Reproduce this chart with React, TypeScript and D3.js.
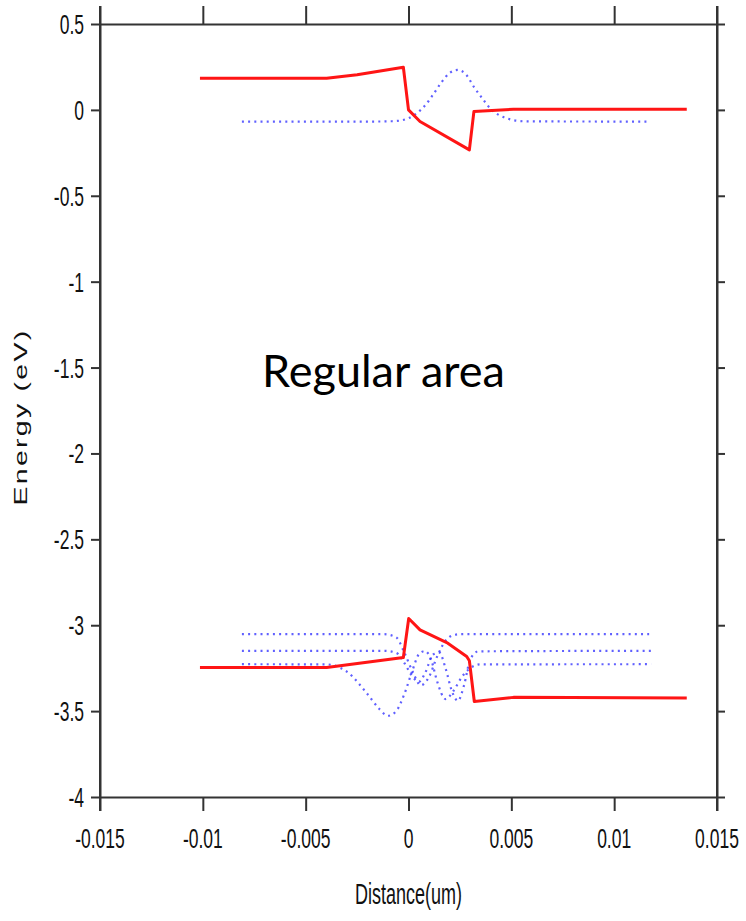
import React, { useEffect, useRef } from "react";
import * as d3 from "d3";

// ---- Data (Distance in um, Energy in eV) ----
const xTicks = [-0.015, -0.01, -0.005, 0, 0.005, 0.01, 0.015];
const xTickLabels = ["-0.015", "-0.01", "-0.005", "0", "0.005", "0.01", "0.015"];
const yTicks = [0.5, 0, -0.5, -1, -1.5, -2, -2.5, -3, -3.5, -4];
const yTickLabels = ["0.5", "0", "-0.5", "-1", "-1.5", "-2", "-2.5", "-3", "-3.5", "-4"];

// Conduction band (red)
const cbX = [-0.01014, -0.00398, -0.0025, -0.00025, 0.0, 0.00056, 0.00296, 0.00318, 0.0051, 0.01353];
const cbY = [0.184, 0.184, 0.205, 0.248, 0.0, -0.068, -0.233, -0.01, 0.004, 0.004];

// Valence band (red)
const vbX = [-0.01014, -0.00398, -0.00025, 0.00001, 0.00056, 0.00186, 0.00283, 0.00296, 0.0032, 0.0051, 0.01353];
const vbY = [-3.246, -3.246, -3.188, -2.961, -3.027, -3.101, -3.182, -3.207, -3.444, -3.42, -3.424];

// Electron wavefunction (blue dotted)
const weX = [-0.0081, -0.002, -0.0008, -0.0004, 0.0, 0.0004, 0.0008, 0.0012, 0.0016, 0.002, 0.0024, 0.0028, 0.0032, 0.0036, 0.004, 0.0044, 0.0048, 0.0052, 0.0058, 0.0117];
const weY = [-0.068, -0.068, -0.066, -0.062, -0.048, -0.02, 0.025, 0.09, 0.16, 0.215, 0.233, 0.205, 0.13, 0.065, 0.005, -0.03, -0.05, -0.062, -0.067, -0.068];

// Hole wavefunctions (blue dotted)
const wh1X = [-0.0081, -0.0012, -0.0006, -0.0002, 0.0002, 0.0006, 0.001, 0.0014, 0.0018, 0.0022, 0.0026, 0.0117];
const wh1Y = [-3.052, -3.052, -3.07, -3.16, -3.27, -3.35, -3.3, -3.18, -3.09, -3.057, -3.052, -3.052];

const wh2X = [-0.0081, -0.0012, -0.0006, -0.0002, 0.0002, 0.0005, 0.0008, 0.0012, 0.0015, 0.0018, 0.0021, 0.0024, 0.0027, 0.003, 0.0034, 0.0118];
const wh2Y = [-3.149, -3.149, -3.16, -3.22, -3.3, -3.33, -3.28, -3.17, -3.16, -3.25, -3.38, -3.44, -3.35, -3.2, -3.152, -3.149];

const wh3X = [-0.0081, -0.004, -0.003, -0.002, -0.0014, -0.001, -0.0006, -0.0002, 0.0002, 0.0005, 0.0008, 0.0011, 0.0014, 0.0018, 0.0022, 0.0026, 0.003, 0.0035, 0.0118];
const wh3Y = [-3.227, -3.228, -3.27, -3.4, -3.49, -3.527, -3.5, -3.4, -3.26, -3.17, -3.15, -3.2, -3.33, -3.43, -3.38, -3.3, -3.25, -3.228, -3.227];

const annotation = "Regular area";
const xTitle = "Distance(um)";
const yTitle = "Energy (eV)";

const W = 746;
const H = 921;
const M = { left: 100, right: 717, top: 24, bottom: 797 };

export default function App() {
  const ref = useRef<SVGSVGElement>(null);

  useEffect(() => {
    const svg = d3.select(ref.current);
    svg.selectAll("*").remove();

    const x = d3.scaleLinear().domain([-0.015, 0.015]).range([M.left, M.right]);
    const y = d3.scaleLinear().domain([-4, 0.5]).range([M.bottom, M.top]);

    const zip = (xs: number[], ys: number[]) => xs.map((v, i) => [v, ys[i]] as [number, number]);

    const axisColor = "#333";
    const fontFam = "'Liberation Sans', Arial, sans-serif";

    // Axes
    const gB = svg.append("g").attr("transform", `translate(0,${M.bottom})`)
      .call(d3.axisBottom(x).tickValues(xTicks).tickSizeInner(14).tickSizeOuter(0).tickFormat(() => ""));
    const gT = svg.append("g").attr("transform", `translate(0,${M.top})`)
      .call(d3.axisTop(x).tickValues(xTicks).tickSizeInner(18).tickSizeOuter(0).tickFormat(() => ""));
    const gL = svg.append("g").attr("transform", `translate(${M.left},0)`)
      .call(d3.axisLeft(y).tickValues(yTicks).tickSizeInner(9).tickSizeOuter(0).tickFormat(() => ""));
    const gR = svg.append("g").attr("transform", `translate(${M.right},0)`)
      .call(d3.axisRight(y).tickValues(yTicks).tickSizeInner(8).tickSizeOuter(0).tickFormat(() => ""));
    [gB, gT, gL, gR].forEach((g) => {
      g.select(".domain").attr("stroke", axisColor).attr("stroke-width", 2);
      g.selectAll(".tick line").attr("stroke", axisColor).attr("stroke-width", 2);
    });
    svg.append("line").attr("x1", M.left).attr("x2", M.left).attr("y1", M.top - 18).attr("y2", M.bottom + 14)
      .attr("stroke", axisColor).attr("stroke-width", 2);
    svg.append("line").attr("x1", M.right).attr("x2", M.right).attr("y1", M.top - 18).attr("y2", M.bottom + 14)
      .attr("stroke", axisColor).attr("stroke-width", 2);

    // Tick labels (stretched vertically like the reference)
    const sy = 1.6;
    xTicks.forEach((t, i) => {
      svg.append("text")
        .attr("transform", `translate(${x(t)},${M.bottom + 51}) scale(1,${sy})`)
        .attr("text-anchor", "middle")
        .attr("font-family", fontFam)
        .attr("font-size", 17.5)
        .attr("fill", "#111")
        .text(xTickLabels[i]);
    });
    yTicks.forEach((t, i) => {
      svg.append("text")
        .attr("transform", `translate(${M.left - 16},${y(t) + 10}) scale(1,${sy})`)
        .attr("text-anchor", "end")
        .attr("font-family", fontFam)
        .attr("font-size", 17.5)
        .attr("fill", "#111")
        .text(yTickLabels[i]);
    });

    // Axis titles
    svg.append("text")
      .attr("transform", `translate(${(M.left + M.right) / 2},${904}) scale(1,${sy})`)
      .attr("text-anchor", "middle")
      .attr("font-family", fontFam)
      .attr("font-size", 18)
      .attr("fill", "#111")
      .text(xTitle);
    svg.append("text")
      .attr("transform", `translate(27,${417}) rotate(-90) scale(1.5,1)`)
      .attr("text-anchor", "middle")
      .attr("font-family", fontFam)
      .attr("font-size", 19)
      .attr("letter-spacing", 1.5)
      .attr("fill", "#111")
      .text(yTitle);

    // Curves
    const lineLin = d3.line<[number, number]>().x((d) => x(d[0])).y((d) => y(d[1]));
    const lineSmooth = d3.line<[number, number]>().x((d) => x(d[0])).y((d) => y(d[1])).curve(d3.curveMonotoneX);

    const blue = "#2b2bff";
    [zip(weX, weY), zip(wh1X, wh1Y), zip(wh2X, wh2Y), zip(wh3X, wh3Y)].forEach((pts) => {
      svg.append("path")
        .attr("d", lineSmooth(pts))
        .attr("fill", "none")
        .attr("stroke", blue)
        .attr("stroke-opacity", 0.75)
        .attr("stroke-width", 2.2)
        .attr("stroke-dasharray", "2,4.2");
    });

    [zip(cbX, cbY), zip(vbX, vbY)].forEach((pts) => {
      svg.append("path")
        .attr("d", lineLin(pts))
        .attr("fill", "none")
        .attr("stroke", "#ff1515")
        .attr("stroke-width", 3)
        .attr("stroke-linejoin", "round");
    });

    // Annotation
    svg.append("text")
      .attr("x", 262)
      .attr("y", 387)
      .attr("font-family", "Lato, 'Open Sans', sans-serif")
      .attr("font-size", 45)
      .attr("fill", "#000")
      .text(annotation);
  }, []);

  return (
    <svg
      ref={ref}
      width={W}
      height={H}
      style={{ position: "absolute", left: 0, top: 0, background: "#fff", display: "block" }}
    />
  );
}
